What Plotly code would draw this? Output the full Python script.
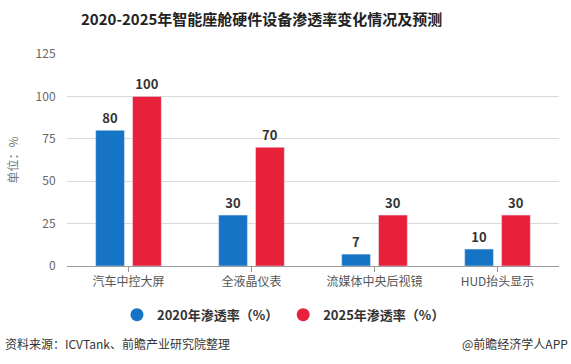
import plotly.graph_objects as go

categories = ["汽车中控大屏", "全液晶仪表", "流媒体中央后视镜", "HUD抬头显示"]
series_2020 = [80, 30, 7, 10]
series_2025 = [100, 70, 30, 30]
name_2020 = "2020年渗透率（%）"
name_2025 = "2025年渗透率（%）"
y_ticks = [0, 25, 50, 75, 100, 125]

BLUE = "#1674C6"
RED = "#E8203A"
FONT = "Noto Sans CJK SC, sans-serif"

fig = go.Figure()
for name, vals, col in [(name_2020, series_2020, BLUE), (name_2025, series_2025, RED)]:
    fig.add_trace(go.Bar(
        x=categories, y=vals, name=name, marker_color=col, showlegend=False,
        text=[str(v) for v in vals], textposition="outside", cliponaxis=False,
        textfont=dict(family=FONT, size=13, color="#333333", weight="bold"),
    ))
for name, col in [(name_2020, BLUE), (name_2025, RED)]:
    fig.add_trace(go.Scatter(
        x=[None], y=[None], mode="markers", name=name,
        marker=dict(symbol="circle", size=13, color=col),
    ))

fig.update_layout(
    width=571, height=364,
    margin=dict(l=67, r=12, t=54, b=98),
    paper_bgcolor="white", plot_bgcolor="white",
    barmode="group", bargap=0.4, bargroupgap=0.22,
    font=dict(family=FONT, size=12, color="#555555"),
    showlegend=True,
    legend=dict(orientation="h", x=0.44, xanchor="center", y=-0.23, yanchor="middle",
                font=dict(family=FONT, size=13, color="#333333", weight="bold"),
                itemwidth=30, tracegroupgap=0),
    xaxis=dict(showline=True, linecolor="#999999", linewidth=1, ticks="outside",
               ticklen=5, tickcolor="#999999", tickson="labels",
               tickfont=dict(size=12, color="#555555")),
    yaxis=dict(range=[0, 125], tickvals=y_ticks, showgrid=True, gridcolor="#D9D9D9",
               zeroline=False, tickfont=dict(size=12, color="#666666"),
               ticks="outside", ticklen=8, tickcolor="rgba(0,0,0,0)",
               title=dict(text="单位：%", font=dict(size=12, color="#777777"), standoff=14)),
    annotations=[
        dict(text="<b>2020-2025年智能座舱硬件设备渗透率变化情况及预测</b>", xref="paper", yref="paper",
             x=(261 - 67) / 492, y=1 + (54 - 18) / 212, xanchor="center", yanchor="middle",
             showarrow=False, font=dict(family=FONT, size=15, color="#222222")),
        dict(text="资料来源：ICVTank、前瞻产业研究院整理", xref="paper", yref="paper",
             x=(3 - 67) / 492, y=(266 - 343) / 212, xanchor="left", yanchor="middle",
             showarrow=False, font=dict(family=FONT, size=12, color="#333333")),
        dict(text="@前瞻经济学人APP", xref="paper", yref="paper",
             x=(570 - 67) / 492, y=(266 - 343) / 212, xanchor="right", yanchor="middle",
             showarrow=False, font=dict(family=FONT, size=12, color="#333333")),
    ],
)

fig.write_html("out.html", config={"displayModeBar": False},
               post_script="document.body.style.margin='0';document.body.style.overflow='hidden';")
